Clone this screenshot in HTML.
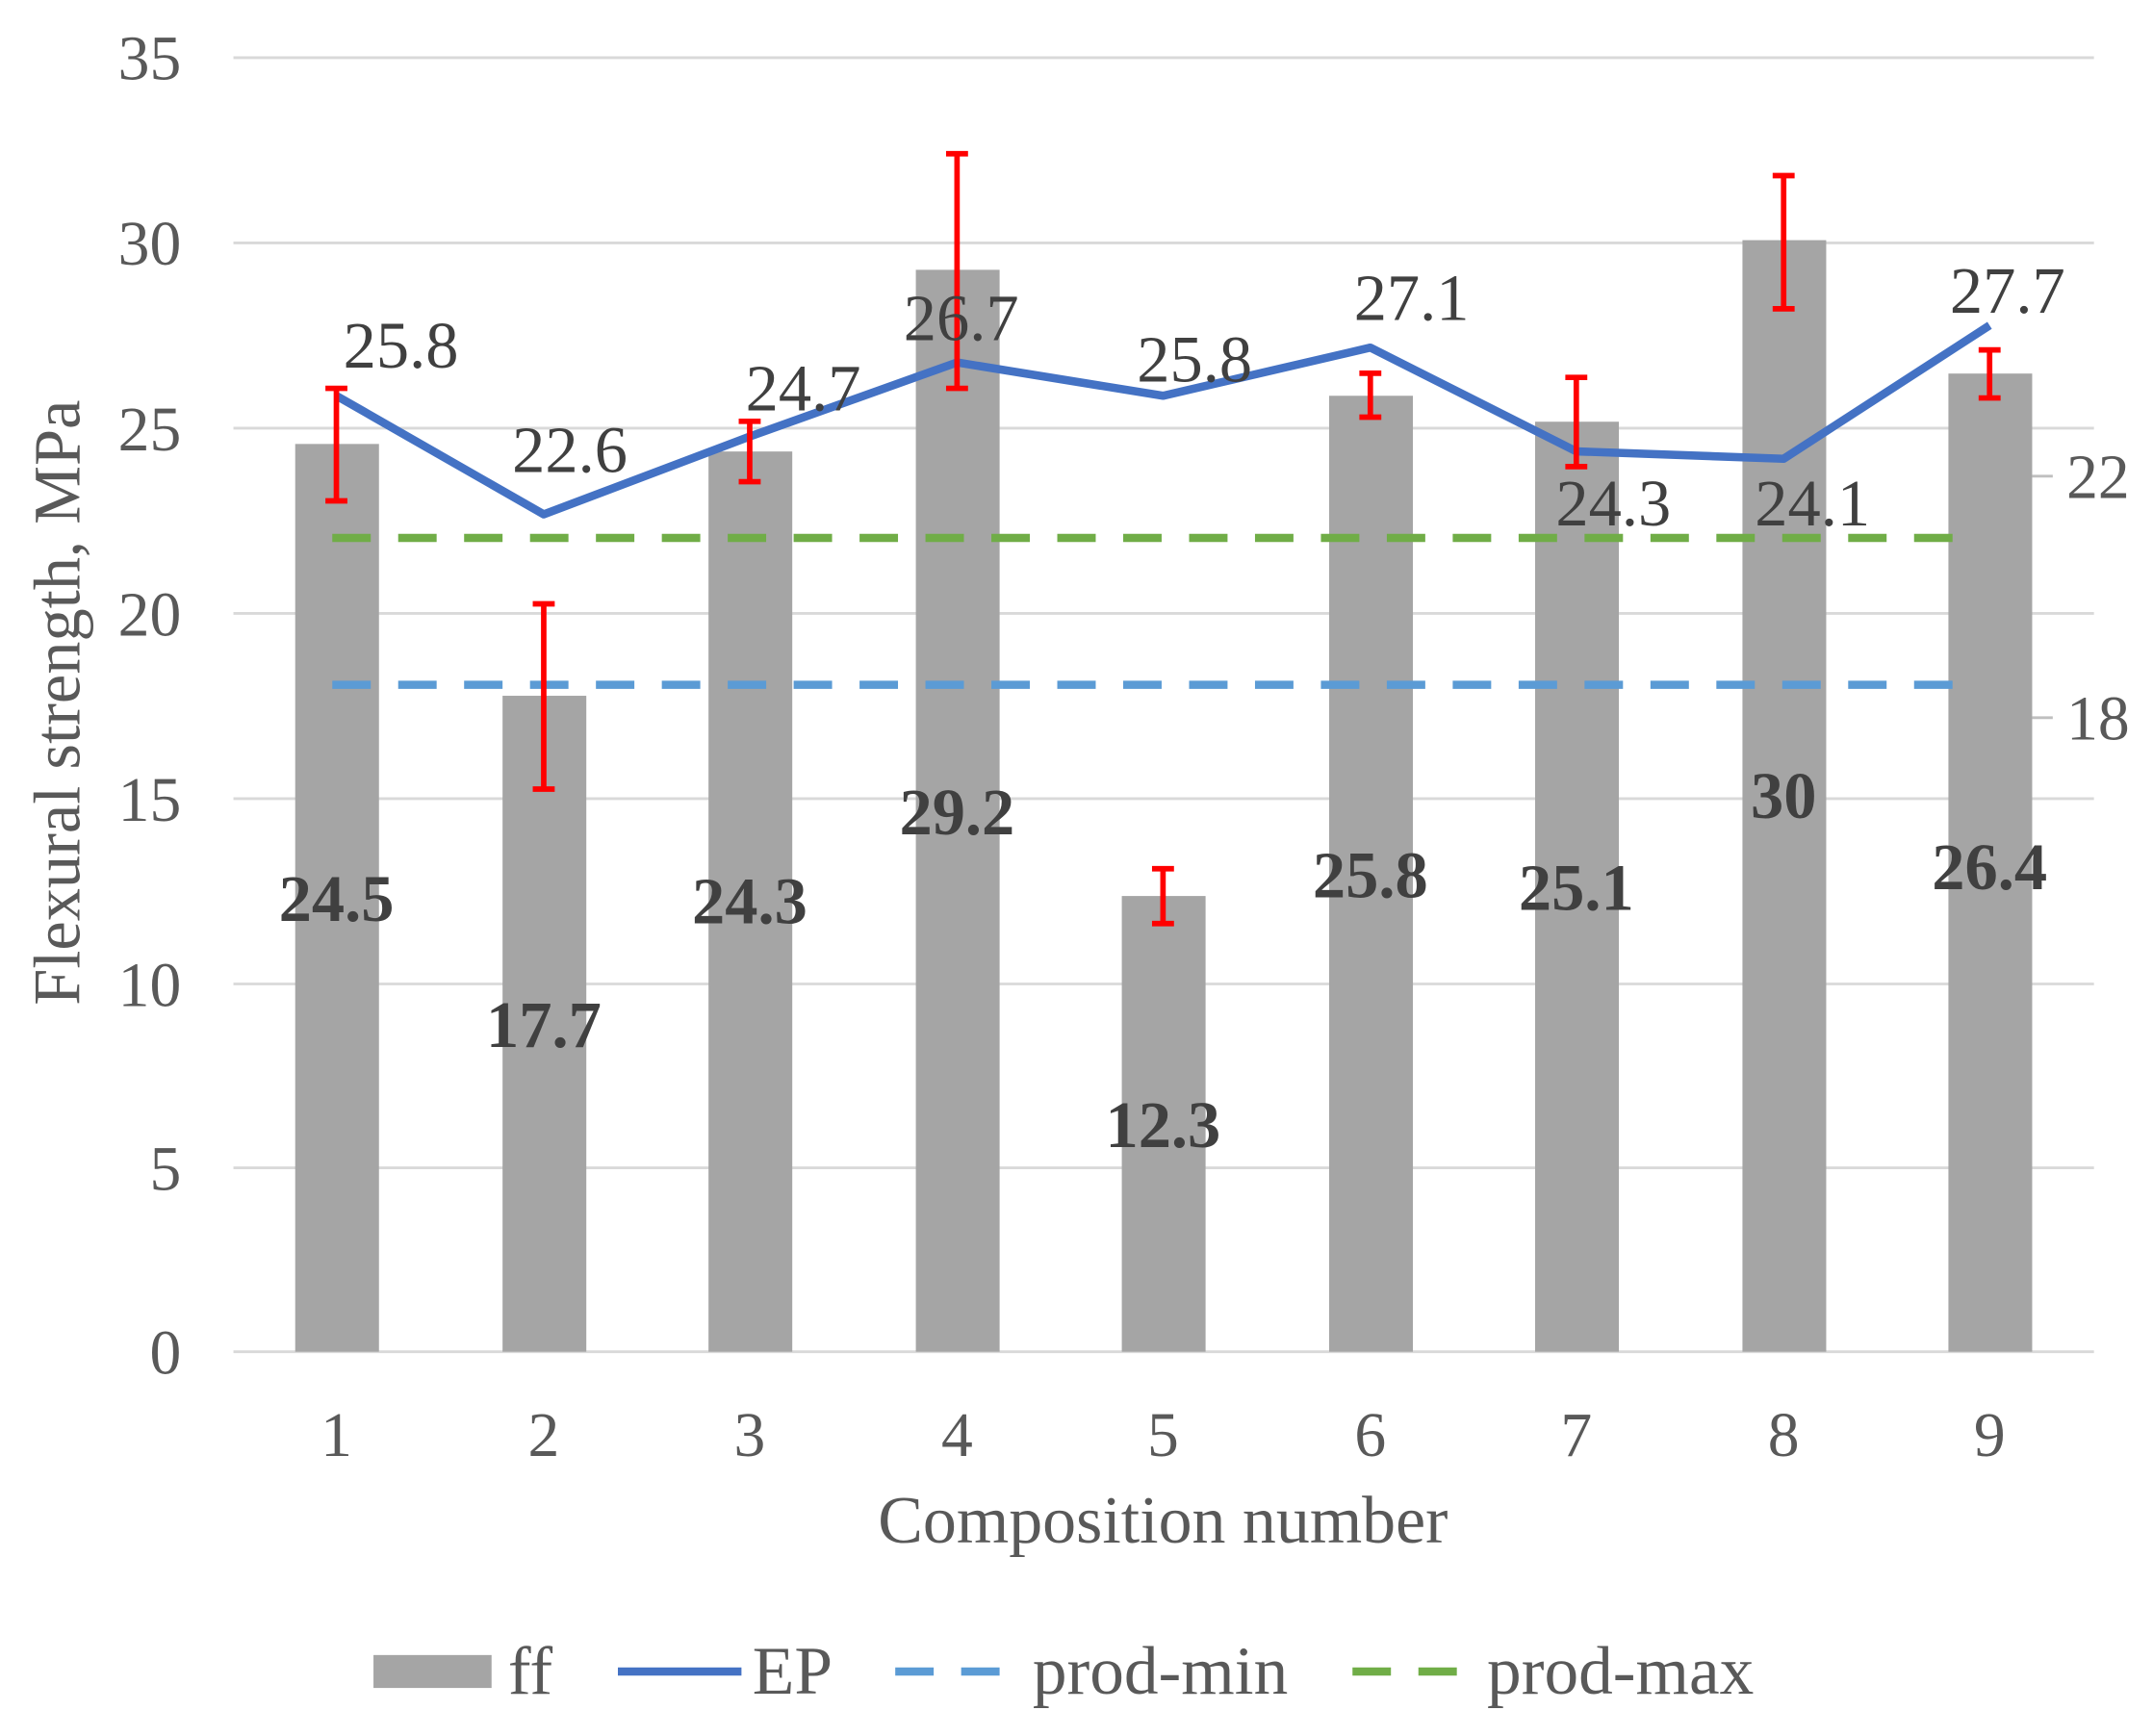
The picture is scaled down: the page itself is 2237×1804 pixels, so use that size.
<!DOCTYPE html>
<html><head><meta charset="utf-8"><style>html,body{margin:0;padding:0;background:#fff}svg{display:block}</style></head>
<body>
<svg width="2237" height="1804" viewBox="0 0 1568 1265" preserveAspectRatio="none" xmlns="http://www.w3.org/2000/svg" font-family="Liberation Serif, serif">
<rect width="1568" height="1265" fill="#fff"/>
<g stroke="#d9d9d9" stroke-width="2">
<line x1="170" x2="1525" y1="42" y2="42"/><line x1="170" x2="1525" y1="177" y2="177"/><line x1="170" x2="1525" y1="312" y2="312"/><line x1="170" x2="1525" y1="447" y2="447"/><line x1="170" x2="1525" y1="582" y2="582"/><line x1="170" x2="1525" y1="717" y2="717"/><line x1="170" x2="1525" y1="851" y2="851"/><line x1="170" x2="1525" y1="985" y2="985"/>
</g>
<g fill="#595959" font-size="46" text-anchor="end">
<text x="132" y="58">35</text><text x="132" y="193">30</text><text x="132" y="328">25</text><text x="132" y="463">20</text><text x="132" y="598">15</text><text x="132" y="733">10</text><text x="132" y="867">5</text><text x="132" y="1001">0</text>
</g>
<text transform="translate(58,512) rotate(-90)" text-anchor="middle" font-size="48" fill="#595959">Flexural strength, MPa</text>
<g fill="#a5a5a5">
<rect x="215" y="323.5" width="61" height="661.5"/><rect x="366" y="507" width="61" height="478"/><rect x="516" y="329" width="61" height="656"/><rect x="667" y="196.6" width="61" height="788.4"/><rect x="817" y="652.9" width="61" height="332.1"/><rect x="968" y="288.4" width="61" height="696.6"/><rect x="1118" y="307.3" width="61" height="677.7"/><rect x="1269" y="175" width="61" height="810"/><rect x="1419" y="272.2" width="61" height="712.8"/>
</g>
<g stroke="#5b9bd5" stroke-width="6" stroke-dasharray="28,20"><line x1="242" x2="1440" y1="499" y2="499"/></g>
<g stroke="#70ad47" stroke-width="6" stroke-dasharray="28,20"><line x1="242" x2="1440" y1="392" y2="392"/></g>
<polyline fill="none" stroke="#4472c4" stroke-width="6" stroke-linejoin="round" points="245,288.4 396,374.8 546,318.1 697,264.1 847,288.4 998,253.3 1148,328.9 1299,334.3 1449,237.1"/>
<g stroke="#ff0000" stroke-width="4">
<path d="M245 283V365M237 283H253M237 365H253"/>
<path d="M396 440V575M388 440H404M388 575H404"/>
<path d="M546 307V351M538 307H554M538 351H554"/>
<path d="M697 112V283M689 112H705M689 283H705"/>
<path d="M847 633V673M839 633H855M839 673H855"/>
<path d="M998 272V304M990 272H1006M990 304H1006"/>
<path d="M1148 275V340M1140 275H1156M1140 340H1156"/>
<path d="M1299 128V225M1291 128H1307M1291 225H1307"/>
<path d="M1449 255V290M1441 255H1457M1441 290H1457"/>
</g>
<g fill="#404040" font-size="48" text-anchor="middle">
<text x="292" y="268">25.8</text><text x="415" y="344">22.6</text><text x="585" y="299">24.7</text><text x="700" y="248">26.7</text><text x="870" y="278">25.8</text><text x="1028" y="233">27.1</text><text x="1175" y="383">24.3</text><text x="1320" y="383">24.1</text><text x="1462" y="228">27.7</text>
</g>
<g fill="#404040" font-size="48" font-weight="bold" text-anchor="middle">
<text x="245" y="671">24.5</text><text x="396" y="763">17.7</text><text x="546" y="673">24.3</text><text x="697" y="608">29.2</text><text x="847" y="836">12.3</text><text x="998" y="654">25.8</text><text x="1148" y="663">25.1</text><text x="1299" y="596">30</text><text x="1449" y="648">26.4</text>
</g>
<g stroke="#bfbfbf" stroke-width="2"><line x1="1480" x2="1495" y1="347" y2="347"/><line x1="1480" x2="1495" y1="523" y2="523"/></g>
<g fill="#595959" font-size="46"><text x="1505" y="363">22</text><text x="1505" y="539">18</text></g>
<g fill="#595959" font-size="46" text-anchor="middle">
<text x="245" y="1061">1</text><text x="396" y="1061">2</text><text x="546" y="1061">3</text><text x="697" y="1061">4</text><text x="847" y="1061">5</text><text x="998" y="1061">6</text><text x="1148" y="1061">7</text><text x="1299" y="1061">8</text><text x="1449" y="1061">9</text>
</g>
<text x="847" y="1124" text-anchor="middle" font-size="49" fill="#595959">Composition number</text>
<rect x="272" y="1206" width="86" height="24" fill="#a5a5a5"/>
<text x="370" y="1234" font-size="50" fill="#595959">ff</text>
<line x1="450" x2="540" y1="1218" y2="1218" stroke="#4472c4" stroke-width="6"/>
<text x="548" y="1234" font-size="50" fill="#595959">EP</text>
<line x1="652" x2="740" y1="1218" y2="1218" stroke="#5b9bd5" stroke-width="6" stroke-dasharray="28,20"/>
<text x="752" y="1234" font-size="50" fill="#595959">prod-min</text>
<line x1="985" x2="1075" y1="1218" y2="1218" stroke="#70ad47" stroke-width="6" stroke-dasharray="28,20"/>
<text x="1083" y="1234" font-size="50" fill="#595959">prod-max</text>
</svg>
</body></html>
